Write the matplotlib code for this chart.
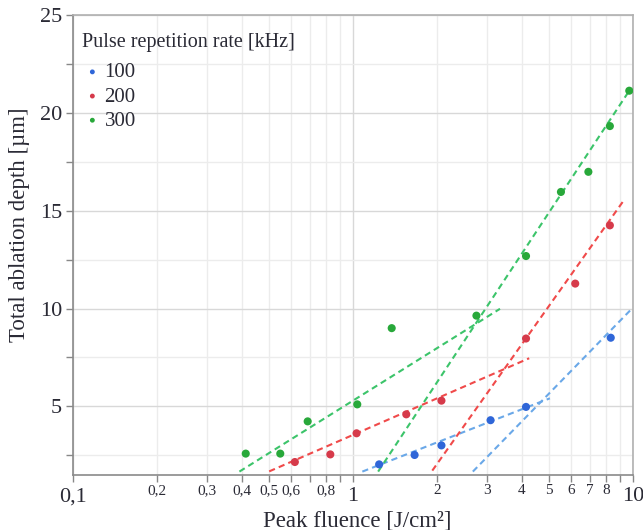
import matplotlib
matplotlib.use("Agg")
import matplotlib.pyplot as plt

# Datos (fluencia pico en J/cm2, profundidad en um)
x_100 = [1.24, 1.66, 2.07, 3.10, 4.15, 8.33]
y_100 = [2.03, 2.51, 3.00, 4.29, 4.97, 8.51]

x_200 = [0.62, 0.83, 1.03, 1.55, 2.07, 4.15, 6.22, 8.27]
y_200 = [2.15, 2.54, 3.62, 4.59, 5.29, 8.47, 11.28, 14.26]

x_300 = [0.414, 0.55, 0.689, 1.036, 1.375, 2.76, 4.15, 5.53, 6.93, 8.27, 9.7]
y_300 = [2.58, 2.58, 4.23, 5.10, 9.00, 9.64, 12.69, 15.97, 17.0, 19.34, 21.15]

# Rectas de ajuste (extremos), regimen bajo y alto
fit_100_x = [[1.08, 5.05], [2.68, 9.9]]
fit_100_y = [[1.66, 5.41], [1.66, 9.99]]
fit_200_x = [[0.502, 4.26], [1.92, 9.19]]
fit_200_y = [[1.67, 7.46], [1.71, 15.46]]
fit_300_x = [[0.393, 3.35], [1.23, 9.7]]
fit_300_y = [[1.66, 9.99], [1.66, 21.15]]

labels = ["100", "200", "300"]

major_x = [0.1, 1, 10]
major_x_lab = ["0,1", "1", "10"]
minor_x = [0.2, 0.3, 0.4, 0.5, 0.6, 0.7, 0.8, 0.9, 2, 3, 4, 5, 6, 7, 8, 9]
minor_x_lab = ["0,2", "0,3", "0,4", "0,5", "0,6", "", "0,8", "",
               "2", "3", "4", "5", "6", "7", "8", ""]
major_y = [5, 10, 15, 20, 25]
minor_y = [2.5, 7.5, 12.5, 17.5, 22.5]

plt.rcParams["font.family"] = "Liberation Serif"
txt = "#2a2a35"

fig = plt.figure(figsize=(6.43, 5.30), dpi=100)
ax = fig.add_axes([0.1135, 0.1043, 0.8709, 0.8665])

pt_cols = ["#2f66d8", "#d63a4a", "#28a83a"]
ln_cols = ["#6aa8e8", "#f04a4a", "#3cc46a"]
xs = [x_100, x_200, x_300]
ys = [y_100, y_200, y_300]
fxs = [fit_100_x, fit_200_x, fit_300_x]
fys = [fit_100_y, fit_200_y, fit_300_y]

for i in range(3):
    for fx, fy in zip(fxs[i], fys[i]):
        ax.plot(fx, fy, color=ln_cols[i], lw=1.5, ls=(0, (3, 2)), zorder=2)
    ax.scatter(xs[i], ys[i], s=34, color=pt_cols[i], label=labels[i], zorder=3,
               edgecolors="none")

ax.set_xscale("log")
ax.set_xlim(0.1, 10)
ax.set_ylim(1.5, 25)

ax.set_xticks(major_x)
ax.set_xticklabels(major_x_lab, fontsize=16, color=txt)
ax.set_xticks(minor_x, minor=True)
ax.set_xticklabels(minor_x_lab, minor=True, fontsize=11, color=txt)
ax.set_yticks(major_y)
ax.set_yticklabels([str(v) for v in major_y], fontsize=16, color=txt)
ax.set_yticks(minor_y, minor=True)
ax.tick_params(axis="y", which="minor", labelleft=False)

ax.tick_params(which="both", direction="out", color="#888888", length=5, width=1)
ax.tick_params(axis="x", which="major", pad=4)
ax.tick_params(axis="x", which="minor", pad=2)
ax.tick_params(axis="y", which="major", pad=3)

ax.grid(True, which="major", color="#d8d8d8", lw=1)
ax.grid(True, which="minor", color="#ececec", lw=1)
ax.set_axisbelow(True)

for s in ["left", "bottom"]:
    ax.spines[s].set_color("#8a8a8a")
    ax.spines[s].set_linewidth(1.2)
for s in ["top", "right"]:
    ax.spines[s].set_color("#b0b0b0")
    ax.spines[s].set_linewidth(1.2)

ax.set_xlabel("Peak fluence [J/cm²]", fontsize=16.5, color=txt)
ax.xaxis.set_label_coords(0.507, -0.077)
ax.set_ylabel("Total ablation depth [µm]", fontsize=16.5, color=txt)
ax.yaxis.set_label_coords(-0.077, 0.544)

leg = ax.legend(title="Pulse repetition rate [kHz]", loc="upper left", frameon=False,
                bbox_to_anchor=(0, 0.983),
                fontsize=15, title_fontsize=14.5, alignment="left",
                handlelength=0.96, handletextpad=0.1, labelspacing=0.22,
                borderaxespad=0.05, borderpad=0.4, markerscale=0.6)
leg._legend_box.sep = 8
for t in leg.get_texts():
    t.set_color(txt)
leg.get_title().set_color(txt)

fig.savefig("out.png", dpi=100)
